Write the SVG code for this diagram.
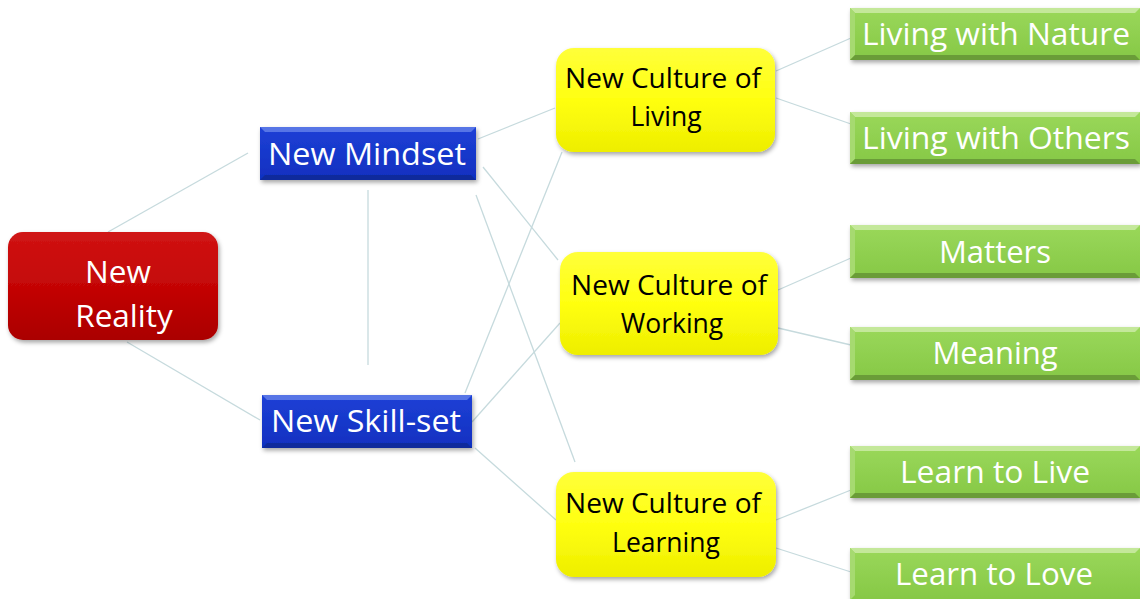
<svg xmlns="http://www.w3.org/2000/svg" width="1140" height="599" viewBox="0 0 1140 599">
<style>
.conn line{stroke:#c6dadd;stroke-width:1.3;fill:none}
.t{font-family:"Open Sans","Liberation Sans",sans-serif;text-anchor:middle}
.w{fill:#ffffff}
.k{fill:#000000}
</style>
<defs>
<linearGradient id="gRed" x1="0" y1="0" x2="0" y2="1"><stop offset="0" stop-color="#d01414"/><stop offset="0.5" stop-color="#c40606"/><stop offset="1" stop-color="#aa0000"/></linearGradient>
<linearGradient id="gYel" x1="0" y1="0" x2="0" y2="1"><stop offset="0" stop-color="#ffff3a"/><stop offset="0.5" stop-color="#ffff10"/><stop offset="1" stop-color="#eeee00"/></linearGradient>
<linearGradient id="gBlu" x1="0" y1="0" x2="0" y2="1"><stop offset="0" stop-color="#1e40d6"/><stop offset="1" stop-color="#1030c0"/></linearGradient>
<linearGradient id="gGrn" x1="0" y1="0" x2="0" y2="1"><stop offset="0" stop-color="#9ad85a"/><stop offset="1" stop-color="#86c846"/></linearGradient>
<filter id="sh" x="-10%" y="-10%" width="125%" height="130%"><feDropShadow dx="1.5" dy="2.5" stdDeviation="2" flood-color="#000" flood-opacity="0.35"/></filter>
</defs>
<rect width="1140" height="599" fill="#ffffff"/>
<g class="conn" id="connectors">
<line x1="108" y1="232" x2="248" y2="153"/>
<line x1="127" y1="342" x2="260" y2="420"/>
<line x1="368" y1="190" x2="368" y2="365"/>
<line x1="478" y1="139" x2="555" y2="108"/>
<line x1="483" y1="167" x2="558" y2="260"/>
<line x1="476" y1="195" x2="575" y2="462"/>
<line x1="562" y1="152" x2="465" y2="393"/>
<line x1="472" y1="422" x2="560" y2="323"/>
<line x1="475" y1="448" x2="556" y2="520"/>
<line x1="776" y1="71" x2="851" y2="38"/>
<line x1="776" y1="98" x2="851" y2="124"/>
<line x1="778" y1="290" x2="851" y2="258"/>
<line x1="778" y1="328" x2="851" y2="345"/>
<line x1="776" y1="520" x2="851" y2="490"/>
<line x1="776" y1="548" x2="851" y2="572"/>
</g>
<g id="newReality">
<rect x="8" y="232" width="210" height="108" rx="15" fill="url(#gRed)" filter="url(#sh)"/>
<text class="t w" x="118" y="283" font-size="31.5">New</text>
<text class="t w" x="124" y="327" font-size="31.5">Reality</text>
</g>
<g id="newMindset">
<rect x="260" y="127" width="216" height="53" fill="url(#gBlu)" filter="url(#sh)"/>
<polygon points="260,127 476,127 471,132 265,132" fill="#5775e6"/>
<polygon points="260,180 476,180 471,175 265,175" fill="#0f2a9c"/>
<text class="t w" x="367" y="165" font-size="31" textLength="198" lengthAdjust="spacingAndGlyphs">New Mindset</text>
</g>
<g id="newSkillset">
<rect x="262" y="395" width="210" height="53" fill="url(#gBlu)" filter="url(#sh)"/>
<polygon points="262,395 472,395 467,400 267,400" fill="#5775e6"/>
<polygon points="262,448 472,448 467,443 267,443" fill="#0f2a9c"/>
<text class="t w" x="366" y="432" font-size="31" textLength="190" lengthAdjust="spacingAndGlyphs">New Skill-set</text>
</g>
<g id="cultureLiving">
<rect x="556" y="48" width="219" height="104" rx="18" fill="url(#gYel)" filter="url(#sh)"/>
<text class="t k" x="663" y="88" font-size="26.5" textLength="196" lengthAdjust="spacingAndGlyphs">New Culture of</text>
<text class="t k" x="666" y="126" font-size="26.5">Living</text>
</g>
<g id="cultureWorking">
<rect x="560" y="252" width="218" height="103" rx="18" fill="url(#gYel)" filter="url(#sh)"/>
<text class="t k" x="669" y="295" font-size="26.5" textLength="196" lengthAdjust="spacingAndGlyphs">New Culture of</text>
<text class="t k" x="672" y="333" font-size="26.5">Working</text>
</g>
<g id="cultureLearning">
<rect x="556" y="472" width="220" height="105" rx="18" fill="url(#gYel)" filter="url(#sh)"/>
<text class="t k" x="663" y="513" font-size="26.5" textLength="196" lengthAdjust="spacingAndGlyphs">New Culture of</text>
<text class="t k" x="666" y="552" font-size="26.5">Learning</text>
</g>
<g id="livingNature">
<rect x="850" y="8" width="290" height="52" fill="url(#gGrn)" filter="url(#sh)"/>
<polygon points="850,8 1140,8 1135,13 855,13" fill="#c4e89a"/>
<polygon points="850,8 855,13 855,55 850,60" fill="#a6da70"/>
<polygon points="850,60 1140,60 1135,55 855,55" fill="#6a9c38"/>
<text class="t w" x="996" y="45" font-size="31" textLength="268" lengthAdjust="spacingAndGlyphs">Living with Nature</text>
</g>
<g id="livingOthers">
<rect x="850" y="112" width="290" height="52" fill="url(#gGrn)" filter="url(#sh)"/>
<polygon points="850,112 1140,112 1135,117 855,117" fill="#c4e89a"/>
<polygon points="850,112 855,117 855,159 850,164" fill="#a6da70"/>
<polygon points="850,164 1140,164 1135,159 855,159" fill="#6a9c38"/>
<text class="t w" x="996" y="149" font-size="31" textLength="268" lengthAdjust="spacingAndGlyphs">Living with Others</text>
</g>
<g id="matters">
<rect x="850" y="225" width="290" height="53" fill="url(#gGrn)" filter="url(#sh)"/>
<polygon points="850,225 1140,225 1135,230 855,230" fill="#c4e89a"/>
<polygon points="850,225 855,230 855,273 850,278" fill="#a6da70"/>
<polygon points="850,278 1140,278 1135,273 855,273" fill="#6a9c38"/>
<text class="t w" x="995" y="263" font-size="31">Matters</text>
</g>
<g id="meaning">
<rect x="850" y="327" width="290" height="53" fill="url(#gGrn)" filter="url(#sh)"/>
<polygon points="850,327 1140,327 1135,332 855,332" fill="#c4e89a"/>
<polygon points="850,327 855,332 855,375 850,380" fill="#a6da70"/>
<polygon points="850,380 1140,380 1135,375 855,375" fill="#6a9c38"/>
<text class="t w" x="995" y="364" font-size="31">Meaning</text>
</g>
<g id="learnLive">
<rect x="850" y="446" width="290" height="52" fill="url(#gGrn)" filter="url(#sh)"/>
<polygon points="850,446 1140,446 1135,451 855,451" fill="#c4e89a"/>
<polygon points="850,446 855,451 855,493 850,498" fill="#a6da70"/>
<polygon points="850,498 1140,498 1135,493 855,493" fill="#6a9c38"/>
<text class="t w" x="995" y="483" font-size="31" textLength="190" lengthAdjust="spacingAndGlyphs">Learn to Live</text>
</g>
<g id="learnLove">
<rect x="850" y="548" width="290" height="52" fill="url(#gGrn)" filter="url(#sh)"/>
<polygon points="850,548 1140,548 1135,553 855,553" fill="#c4e89a"/>
<polygon points="850,548 855,553 855,595 850,600" fill="#a6da70"/>
<text class="t w" x="994" y="585" font-size="31" textLength="198" lengthAdjust="spacingAndGlyphs">Learn to Love</text>
</g>
</svg>
